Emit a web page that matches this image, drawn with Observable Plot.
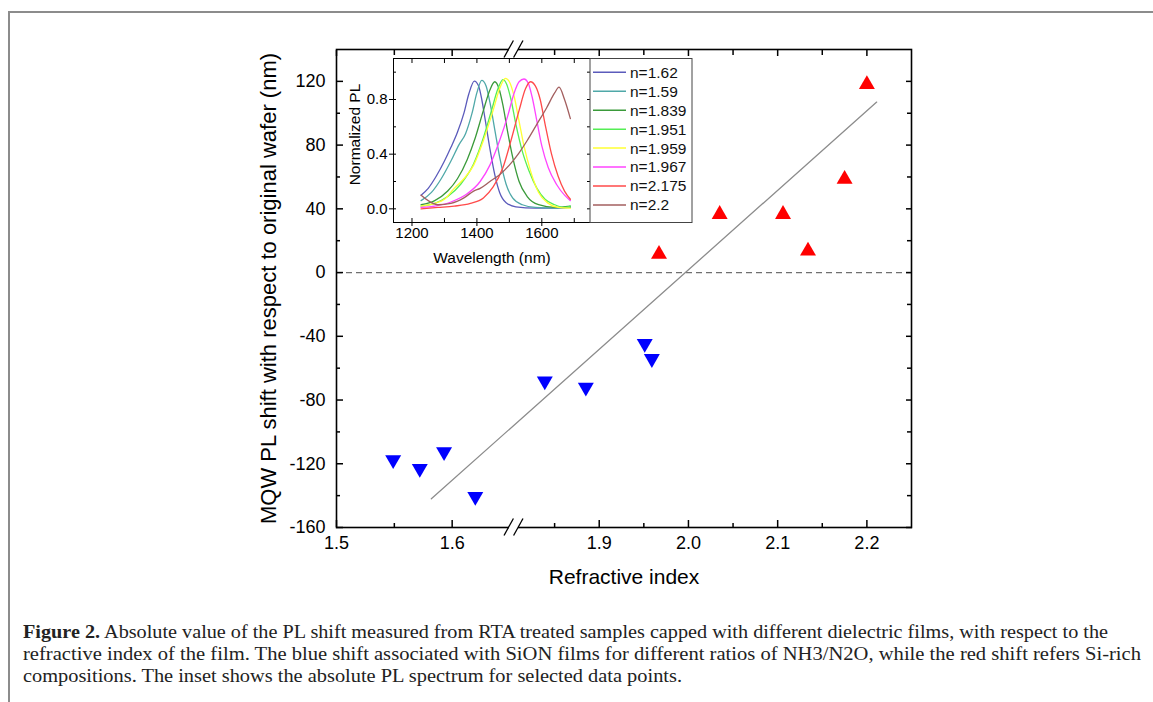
<!DOCTYPE html>
<html>
<head>
<meta charset="utf-8">
<script src="https://cdn.jsdelivr.net/npm/d3@7"></script>
<script src="https://cdn.jsdelivr.net/npm/@observablehq/plot@0.6"></script>
<style>
  html, body { margin: 0; padding: 0; background: #fff; }
  body { width: 1153px; height: 702px; overflow: hidden; position: relative; font-family: "Liberation Sans", Arial, sans-serif; }
  #frameTop { position: absolute; left: 8px; top: 11px; width: 1145px; height: 2px; background: #8c8c8c; }
  #frameLeft { position: absolute; left: 8px; top: 11px; width: 2px; height: 691px; background: #8c8c8c; }
  #main { position: absolute; left: 0; top: 0; }
  #inset { position: absolute; left: 340px; top: 50px; }
  #legend { position: absolute; left: 589px; top: 58px; }
  #caption { position: absolute; left: 0; top: 610px; }
</style>
</head>
<body>
<div id="frameTop"></div>
<div id="frameLeft"></div>
<div id="main"></div>
<div id="inset"></div>
<div id="legend"></div>
<div id="caption"></div>
<script>
// ---------------- DATA ----------------
// main chart axis ticks
const xTickValues = [1.5, 1.6, 1.9, 2.0, 2.1, 2.2];
const xMinorValues = [1.55, 1.85, 1.95, 2.05, 2.15];
const xBreak = [1.65, 1.8];
const yTickValues = [120, 80, 40, 0, -40, -80, -120, -160];
const yMinorValues = [100, 60, 20, -20, -60, -100, -140];

// blue shift (SiON films)
const blueN = [1.549, 1.572, 1.593, 1.620, 1.839, 1.885, 1.951, 1.959];
const blueShift = [-119, -124.5, -114, -142, -69.5, -73.5, -46, -55.5];
// red shift (Si-rich)
const redN = [1.967, 2.035, 2.106, 2.134, 2.175, 2.200];
const redShift = [13, 38, 38, 15, 60, 119.5];
// linear fit line end points
const fitN = [1.582, 2.211];
const fitShift = [-142, 107];

// inset axis ticks
const insetXTicks = [1200, 1400, 1600];
const insetXMinor = [1300, 1500, 1700];
const insetYTicks = [0, 0.4, 0.8];
const insetYMinor = [0.2, 0.6, 1.0];

// inset spectra: [wavelength (nm), normalized PL]
const spec162 = [[1228,0.10],[1250,0.15],[1275,0.24],[1300,0.35],[1320,0.45],[1340,0.56],[1360,0.70],[1375,0.84],[1392,0.935],[1405,0.90],[1415,0.80],[1425,0.66],[1440,0.44],[1455,0.25],[1470,0.12],[1490,0.045],[1520,0.015],[1580,0.005],[1640,0.005],[1688,0.01]];
const spec159 = [[1228,0.06],[1260,0.12],[1290,0.22],[1320,0.35],[1345,0.47],[1365,0.55],[1385,0.70],[1400,0.85],[1415,0.94],[1428,0.90],[1440,0.78],[1455,0.58],[1470,0.38],[1490,0.18],[1510,0.08],[1540,0.03],[1580,0.01],[1640,0.005],[1688,0.01]];
const spec1839 = [[1228,0.03],[1270,0.06],[1310,0.13],[1340,0.22],[1370,0.36],[1395,0.52],[1420,0.72],[1440,0.87],[1455,0.93],[1468,0.88],[1480,0.76],[1495,0.56],[1510,0.38],[1530,0.20],[1555,0.09],[1590,0.03],[1640,0.01],[1688,0.02]];
const spec1951 = [[1228,0.02],[1270,0.04],[1310,0.09],[1350,0.18],[1390,0.33],[1420,0.52],[1445,0.72],[1465,0.88],[1480,0.945],[1492,0.91],[1505,0.80],[1520,0.62],[1540,0.42],[1560,0.28],[1585,0.15],[1610,0.07],[1640,0.03],[1670,0.01],[1688,0.02]];
const spec1959 = [[1228,0.02],[1270,0.04],[1300,0.07],[1330,0.15],[1360,0.22],[1390,0.32],[1420,0.50],[1450,0.72],[1470,0.88],[1488,0.955],[1500,0.93],[1515,0.82],[1530,0.64],[1545,0.46],[1565,0.28],[1590,0.12],[1620,0.04],[1650,0.01],[1688,0.005]];
const spec1967 = [[1228,0.01],[1270,0.02],[1320,0.05],[1370,0.11],[1410,0.20],[1440,0.32],[1470,0.50],[1495,0.68],[1515,0.85],[1530,0.93],[1545,0.95],[1558,0.92],[1570,0.82],[1585,0.64],[1600,0.46],[1620,0.30],[1645,0.18],[1670,0.10],[1688,0.06]];
const spec2175 = [[1228,0.00],[1280,0.01],[1330,0.02],[1380,0.04],[1420,0.08],[1450,0.16],[1480,0.30],[1505,0.50],[1530,0.72],[1550,0.88],[1565,0.93],[1580,0.90],[1595,0.80],[1610,0.62],[1630,0.40],[1650,0.24],[1670,0.13],[1688,0.07]];
const spec22 = [[1228,0.10],[1250,0.06],[1280,0.03],[1320,0.04],[1360,0.08],[1390,0.13],[1410,0.15],[1440,0.20],[1470,0.25],[1500,0.32],[1530,0.41],[1555,0.50],[1585,0.62],[1615,0.74],[1640,0.85],[1653,0.89],[1670,0.80],[1688,0.66]];

const seriesNames = ["n=1.62", "n=1.59", "n=1.839", "n=1.951", "n=1.959", "n=1.967", "n=2.175", "n=2.2"];
const seriesColors = ["#5b5bbb", "#4fa8a8", "#3a9a3a", "#55ee55", "#ffff33", "#ff44ff", "#ff4a4a", "#a35f5f"];
const seriesData = [spec162, spec159, spec1839, spec1951, spec1959, spec1967, spec2175, spec22];

const yLabel = "MQW PL shift with respect to original wafer (nm)";
const xLabel = "Refractive index";
const insetYLabel = "Normalized PL";
const insetXLabel = "Wavelength (nm)";

// ---------------- CHART ----------------
const font = '"Liberation Sans", Arial, Helvetica, sans-serif';
const ns = "http://www.w3.org/2000/svg";

const triUp = {draw(ctx, size) { const r = Math.sqrt(size / Math.PI); const w = r * 1.33, h = r * 1.15; ctx.moveTo(0, -h); ctx.lineTo(w, h); ctx.lineTo(-w, h); ctx.closePath(); }};
const triDown = {draw(ctx, size) { const r = Math.sqrt(size / Math.PI); const w = r * 1.33, h = r * 1.15; ctx.moveTo(0, h); ctx.lineTo(w, -h); ctx.lineTo(-w, -h); ctx.closePath(); }};

const blue = blueN.map((n, i) => ({n, s: blueShift[i]}));
const red = redN.map((n, i) => ({n, s: redShift[i]}));
const fit = fitN.map((n, i) => ({n, s: fitShift[i]}));

function breakMarks(index, scales, values, dims) {
  const g = document.createElementNS(ns, "g");
  const cx = scales.x(xBreak[0]) + 4;
  const ys = [dims.marginTop, dims.height - dims.marginBottom];
  for (const y0 of ys) {
    const r = document.createElementNS(ns, "rect");
    r.setAttribute("x", cx - 4.5); r.setAttribute("y", y0 - 2);
    r.setAttribute("width", 9); r.setAttribute("height", 4);
    r.setAttribute("fill", "#fff");
    g.appendChild(r);
    for (const off of [-4.8, 4.8]) {
      const l = document.createElementNS(ns, "line");
      l.setAttribute("x1", cx + off - 4.7); l.setAttribute("y1", y0 + 8.5);
      l.setAttribute("x2", cx + off + 4.7); l.setAttribute("y2", y0 - 8.5);
      l.setAttribute("stroke", "#000"); l.setAttribute("stroke-width", 1.3);
      g.appendChild(l);
    }
  }
  return g;
}

const noText = () => "";
const main = Plot.plot({
  width: 1153, height: 600,
  marginLeft: 336, marginRight: 242, marginTop: 49, marginBottom: 73,
  style: {fontFamily: font, fontSize: "18px", background: "transparent", color: "#000"},
  x: {type: "linear", domain: [1.5, xBreak[0], xBreak[1], 2.25], range: [336, 509.5, 509.5, 911], label: null},
  y: {domain: [-160, 140], label: null},
  marks: [
    Plot.ruleY([0], {stroke: "#707070", strokeWidth: 1.3, strokeDasharray: "6,4"}),
    Plot.line(fit, {x: "n", y: "s", stroke: "#8c8c8c", strokeWidth: 1.3}),
    Plot.dot(blue, {x: "n", y: "s", r: 6, symbol: triDown, fill: "#0000ff"}),
    Plot.dot(red, {x: "n", y: "s", r: 6, symbol: triUp, fill: "#ff0000"}),
    Plot.frame({stroke: "#000", strokeWidth: 1.6}),
    // ticks (inward)
    Plot.axisY(yTickValues, {anchor: "left", tickSize: -7, strokeWidth: 1.5, tickFormat: noText, label: null}),
    Plot.axisY(yMinorValues, {anchor: "left", tickSize: -4, strokeWidth: 1.5, tickFormat: noText, label: null}),
    Plot.axisY(yTickValues, {anchor: "right", tickSize: -6, strokeWidth: 1.5, tickFormat: noText, label: null}),
    Plot.axisY(yMinorValues, {anchor: "right", tickSize: -5, strokeWidth: 1.5, tickFormat: noText, label: null}),
    Plot.axisX(xTickValues, {anchor: "bottom", tickSize: -7, strokeWidth: 1.5, tickFormat: noText, label: null}),
    Plot.axisX(xMinorValues, {anchor: "bottom", tickSize: -4, strokeWidth: 1.5, tickFormat: noText, label: null}),
    Plot.axisX(xTickValues, {anchor: "top", tickSize: -6, strokeWidth: 1.5, tickFormat: noText, label: null}),
    Plot.axisX(xMinorValues, {anchor: "top", tickSize: -5, strokeWidth: 1.5, tickFormat: noText, label: null}),
    // tick labels
    Plot.axisY(yTickValues, {anchor: "left", tickSize: 0, tickPadding: 11, tickFormat: d => String(d), fontSize: 18, label: null}),
    Plot.axisX(xTickValues, {anchor: "bottom", tickSize: 0, tickPadding: 9, tickFormat: d3.format(".1f"), fontSize: 18, label: null}),
    breakMarks,
    Plot.text([yLabel], {text: d => d, frameAnchor: "left", dx: -68, rotate: -90, textAnchor: "middle", lineAnchor: "middle", fontSize: 22}),
    Plot.text([xLabel], {text: d => d, frameAnchor: "bottom", dy: 50, textAnchor: "middle", lineAnchor: "middle", fontSize: 21})
  ]
});
document.getElementById("main").appendChild(main);

// ---------------- INSET ----------------
const insetMarks = [Plot.frame({fill: "#fff", stroke: "none"})];
seriesData.forEach((s, i) => {
  insetMarks.push(Plot.line(s, {x: d => d[0], y: d => d[1], stroke: seriesColors[i], strokeWidth: 1.3, curve: "monotone-x"}));
});
insetMarks.push(
  Plot.frame({stroke: "#000", strokeWidth: 1}),
  Plot.axisY(insetYTicks, {anchor: "left", tickSize: 4, tickFormat: noText, label: null}),
  Plot.axisY(insetYTicks.concat(insetYMinor), {anchor: "left", tickSize: -3, tickFormat: noText, label: null}),
  Plot.axisY(insetYTicks.concat(insetYMinor), {anchor: "right", tickSize: -4, tickFormat: noText, label: null}),
  Plot.axisX(insetXTicks, {anchor: "bottom", tickSize: 4, tickFormat: noText, label: null}),
  Plot.axisX(insetXTicks.concat(insetXMinor), {anchor: "bottom", tickSize: -4, tickFormat: noText, label: null}),
  Plot.axisX(insetXTicks.concat(insetXMinor), {anchor: "top", tickSize: -4, tickFormat: noText, label: null}),
  Plot.axisY(insetYTicks, {anchor: "left", tickSize: 0, tickPadding: 6, tickFormat: d3.format(".1f"), fontSize: 15, label: null}),
  Plot.axisX(insetXTicks, {anchor: "bottom", tickSize: 0, tickPadding: 5, tickFormat: d => String(d), fontSize: 15, label: null}),
  Plot.text([insetYLabel], {text: d => d, frameAnchor: "left", dx: -38, dy: -6, rotate: -90, textAnchor: "middle", lineAnchor: "middle", fontSize: 15.5}),
  Plot.text([insetXLabel], {text: d => d, frameAnchor: "bottom", dy: 36, textAnchor: "middle", lineAnchor: "middle", fontSize: 15.5})
);
const inset = Plot.plot({
  width: 260, height: 220,
  marginLeft: 53, marginRight: 10, marginTop: 8, marginBottom: 48,
  style: {fontFamily: font, fontSize: "15px", background: "transparent", color: "#000", overflow: "visible"},
  x: {domain: [1143, 1750], label: null},
  y: {domain: [-0.1, 1.1], label: null},
  marks: insetMarks
});
document.getElementById("inset").appendChild(inset);

// ---------------- LEGEND ----------------
const leg = d3.select("#legend").append("svg").attr("width", 104).attr("height", 166);
leg.append("rect").attr("x", 1).attr("y", 0.5).attr("width", 102).attr("height", 164)
  .attr("fill", "#fff").attr("stroke", "#444").attr("stroke-width", 1);
seriesNames.forEach((name, i) => {
  const y = 14.3 + 18.95 * i;
  leg.append("line").attr("x1", 4).attr("x2", 37).attr("y1", y).attr("y2", y)
    .attr("stroke", seriesColors[i]).attr("stroke-width", 1.5);
  leg.append("text").attr("x", 41).attr("y", y).attr("dy", "0.35em")
    .attr("font-family", font).attr("font-size", 15.5).attr("fill", "#111").text(name);
});

// ---------------- CAPTION ----------------
const cap = d3.select("#caption").append("svg").attr("width", 1153).attr("height", 92);
const capFont = '"Liberation Serif", "Times New Roman", serif';
const capSize = 19;
const l1 = cap.append("text").attr("x", 23).attr("y", 28).attr("font-family", capFont).attr("font-size", capSize).attr("fill", "#222")
  .attr("textLength", 1085).attr("lengthAdjust", "spacingAndGlyphs");
l1.append("tspan").attr("font-weight", "bold").text("Figure 2.");
l1.append("tspan").text(" Absolute value of the PL shift measured from RTA treated samples capped with different dielectric films, with respect to the");
cap.append("text").attr("x", 23).attr("y", 50).attr("font-family", capFont).attr("font-size", capSize).attr("fill", "#222")
  .attr("textLength", 1118).attr("lengthAdjust", "spacingAndGlyphs")
  .text("refractive index of the film. The blue shift associated with SiON films for different ratios of NH3/N2O, while the red shift refers Si-rich");
cap.append("text").attr("x", 23).attr("y", 72).attr("font-family", capFont).attr("font-size", capSize).attr("fill", "#222")
  .attr("textLength", 659).attr("lengthAdjust", "spacingAndGlyphs")
  .text("compositions. The inset shows the absolute PL spectrum for selected data points.");
</script>
</body>
</html>
